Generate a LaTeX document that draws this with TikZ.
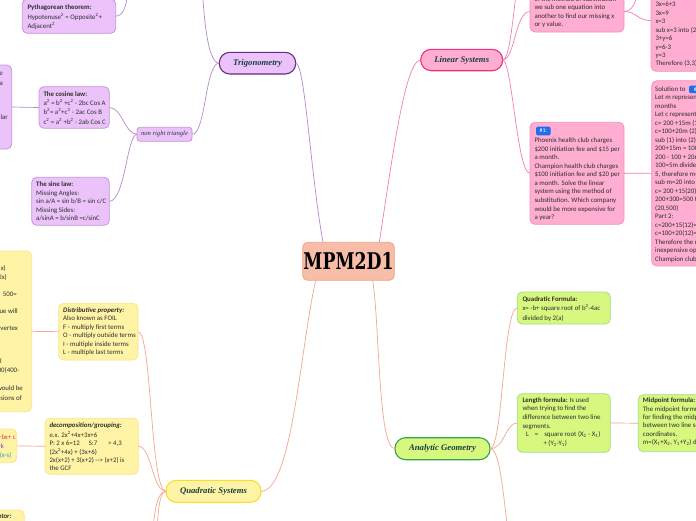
\documentclass[tikz,border=0pt]{standalone}
\usepackage{fontspec}
\newfontfamily\boxfont{Carlito}
\newfontfamily\topicfont{Liberation Serif}
\newfontfamily\mpmfont[FakeStretch=0.75]{DejaVu Serif}
\definecolor{txt}{HTML}{2E2E2E}
\definecolor{topictxt}{HTML}{173F3F}
\definecolor{pfill}{HTML}{EBC3FA}
\definecolor{pdark}{HTML}{6B2A80}
\definecolor{plight}{HTML}{C597D8}
\definecolor{pline}{HTML}{B48BC7}
\definecolor{kfill}{HTML}{FFAED1}
\definecolor{kdark}{HTML}{E8327C}
\definecolor{klight}{HTML}{F290BF}
\definecolor{kline}{HTML}{F37DB5}
\definecolor{gfill}{HTML}{D7F77F}
\definecolor{gdark}{HTML}{2FA54A}
\definecolor{glight}{HTML}{9DE08C}
\definecolor{yfill}{HTML}{FFF4A6}
\definecolor{ydark}{HTML}{F4DF2A}
\definecolor{ylight}{HTML}{FCE38C}
\definecolor{sline}{HTML}{F5A78F}
\definecolor{mfill}{HTML}{F7BDA9}
\definecolor{mdraw}{HTML}{F0A387}
\definecolor{tagblue}{HTML}{1F6FE8}
\definecolor{qred}{HTML}{E8354A}
\definecolor{qpurple}{HTML}{8E3FB0}
\definecolor{qteal}{HTML}{2E9BB5}
\tikzset{
  box/.style={anchor=north west, inner sep=0, outer sep=0, rounded corners=5pt, line width=0.8pt},
  pbox/.style={box, fill=pfill, draw=plight},
  kbox/.style={box, fill=kfill, draw=klight},
  gbox/.style={box, fill=gfill, draw=glight},
  ybox/.style={box, fill=yfill, draw=ylight},
  topic/.style={anchor=north west, inner sep=0, outer sep=0, rounded corners=10.5pt, line width=1.1pt,
    font=\topicfont\bfseries\itshape\fontsize{8.7}{10}\selectfont, text=topictxt},
  tx/.style={anchor=north west, inner sep=0, align=left, text=txt, font=\boxfont\fontsize{6.85}{8.5}\selectfont},
  frag/.style={anchor=base east, inner sep=0, text=txt, font=\boxfont\fontsize{6.85}{8.5}\selectfont},
  conn/.style={line width=0.7pt},
  tagbox/.style={anchor=north west, inner sep=0, outer sep=0, fill=tagblue, rounded corners=1.5pt, text=white,
    font=\boxfont\fontsize{5.8}{7}\selectfont}
}
\begin{document}
\begin{tikzpicture}[x=1pt,y=-1pt]
\useasboundingbox (0,0) rectangle (696,520);
\clip (0,0) rectangle (696,520);
\fill[white] (0,0) rectangle (696,520);

% ---------- central node ----------
\node[draw=mdraw, fill=mfill, line width=0.8pt, rounded corners=5pt, inner sep=0, outer sep=0,
  minimum width=91.6, minimum height=38, anchor=north west] (mpm) at (302.7,242.3)
  {\mpmfont\bfseries\fontsize{23}{26}\selectfont MPM2D1};

% ---------- main topics ----------
\node[topic, fill=pfill, draw=pdark, minimum width=76.4, minimum height=21.7] (trig) at (219.3,52.3) {Trigonometry};
\node[topic, fill=kfill, draw=kdark, minimum width=82, minimum height=21.4] (lin) at (420.7,49.3) {Linear Systems};
\node[topic, fill=gfill, draw=gdark, minimum width=95, minimum height=22] (ag) at (395,437.7) {Analytic Geometry};
\node[topic, fill=yfill, draw=ydark, minimum width=95, minimum height=22] (qs) at (166,480.3) {Quadratic Systems};

% ---------- trigonometry ----------
\node[pbox, rounded corners=3pt, minimum width=55, minimum height=14,
  font=\topicfont\itshape\fontsize{6.6}{8}\selectfont, text=topictxt] (nrt) at (137,127.3) {non right triangle};
\node[pbox, minimum width=93.4, minimum height=34.3] (pyth) at (22.3,-1) {};
\node[tx, font=\boxfont\fontsize{6.85}{9.5}\selectfont] (pytht) at (27.3,3.1)
  {\strut\textbf{Pythagorean theorem:}\\Hypotenuse\textsuperscript{2} = Opposite\textsuperscript{2}+\\Adjacent\textsuperscript{2}};
\node[pbox, minimum width=70.3, minimum height=41.6] (cos) at (39,86.7) {};
\node[tx, font=\boxfont\fontsize{6.85}{9.2}\selectfont] (cost) at (43.3,89.8)
  {\strut\textbf{The cosine law:}\\a\textsuperscript{2} = b\textsuperscript{2} +c\textsuperscript{2} - 2bc Cos A\\b\textsuperscript{2}= a\textsuperscript{2}+c\textsuperscript{2} - 2ac Cos B\\c\textsuperscript{2} = a\textsuperscript{2} +b\textsuperscript{2} - 2ab Cos C};
\node[pbox, minimum width=77.6, minimum height=48] (sine) at (31.7,177.3) {};
\node[tx] (sinet) at (36,180.5)
  {\strut\textbf{The sine law:}\\Missing Angles:\\sin a/A = sin b/B = sin c/C\\Missing Sides:\\a/sinA = b/sinB =c/sinC};
\node[pbox, minimum width=81.7, minimum height=84] (leftp) at (-70,65) {};
\node[frag] (lp1) at (3,75.8) {e};
\node[frag] (lp2) at (3,85.3) {a};
\node[frag] (lp3) at (8,119.1) {lar};

% ---------- linear systems ----------
\node[kbox, minimum width=94, minimum height=41] (subst) at (530,-9) {};
\node[tx] (substt) at (534.3,-5.1)
  {\strut In the method of substitution\\we sub one equation into\\another to find our missing x\\or y value.};
\node[kbox, minimum width=80, minimum height=101.3] (sol1) at (651,-30) {};
\node[tx, font=\boxfont\fontsize{6.85}{8.43}\selectfont] (sol1t) at (655.3,0.8)
  {\strut 3x=6+3\\3x=9\\x=3\\sub x=3 into (2)\\3+y=6\\y=6-3\\y=3\\Therefore (3,3)};
\node[kbox, minimum width=94, minimum height=102] (ex1) at (530,122.3) {};
\node[tagbox, minimum width=14.7, minimum height=8.6] (ex1tag) at (536,126.7) {\#1:};
\node[tx, font=\boxfont\fontsize{6.85}{8.55}\selectfont] (ex1t) at (534.3,136.5)
  {\strut Phoenix health club charges\\\$200 initiation fee and \$15 per\\a month.\\Champion health club charges\\\$100 initiation fee and \$20 per\\a month. Solve the linear\\system using the method of\\substitution. Which company\\would be more expensive for\\a year?};
\node[kbox, minimum width=90, minimum height=185.3] (sol2) at (651.7,80.7) {};
\node[tagbox, minimum width=17, minimum height=7.6] (sol2tag) at (689,85.5) {\#1:};
\node[tx] (sol2t) at (655,85.1)
  {\strut Solution to\\Let m represent\\months\\Let c represent\\c= 200 +15m (1)\\c=100+20m (2)\\sub (1) into (2)\\200+15m = 100+20m\\200 - 100 + 20m\\100=5m divide by\\5, therefore m=20\\sub m=20 into (1)\\c= 200 +15(20)\\200+300=500 therefore\\(20,500)\\Part 2:\\c=200+15(12)=380\\c=100+20(12)=340\\Therefore the most\\inexpensive option\\Champion club};

% ---------- analytic geometry ----------
\node[gbox, minimum width=93, minimum height=32] (qf) at (517.3,292) {};
\node[tx, font=\boxfont\fontsize{6.85}{9.3}\selectfont] (qft) at (522.3,294.8)
  {\strut\textbf{Quadratic Formula:}\\x= -b+ square root of b\textsuperscript{2}-4ac\\divided by 2(a)};
\node[gbox, minimum width=93, minimum height=58.6] (len) at (517.3,393.7) {};
\node[tx, font=\boxfont\fontsize{6.85}{8.6}\selectfont] (lent) at (522.3,396.1)
  {\strut\textbf{Length formula:} Is used\\when trying to find the\\difference between two line\\segments.\\\hspace{3.5pt}L\hspace{6pt}=\hspace{6pt}square root (X\textsubscript{2} - X\textsubscript{1})\\\hspace{21pt}+ (Y\textsubscript{2}-Y\textsubscript{1})};
\node[gbox, minimum width=100, minimum height=57] (mid) at (638.3,394.7) {};
\node[tx, font=\boxfont\fontsize{6.85}{8.45}\selectfont] (midt) at (642.7,396.5)
  {\strut\textbf{Midpoint formula:}\\The midpoint formula is used\\for finding the midpoint\\between two line segments\\coordinates.\\m=(X\textsubscript{1}+X\textsubscript{2}, Y\textsubscript{1}+Y\textsubscript{2}) divided by 2};

% ---------- quadratic systems ----------
\node[ybox, minimum width=79.3, minimum height=56.7] (dist) at (58.7,303.3) {};
\node[tx] (distt) at (63,306.1)
  {\strut\textbf{\textit{Distributive property:}}\\Also known as FOIL\\F - multiply first terms\\O - multiply outside terms\\ I - multiple inside terms\\L - multiple last terms};
\node[ybox, minimum width=93.3, minimum height=56] (decomp) at (45,418.3) {};
\node[tx, font=\boxfont\fontsize{6.85}{8.4}\selectfont] (decompt) at (49.3,421.5)
  {\strut\textbf{\textit{decomposition/grouping:}}\\e.x. 2x\textsuperscript{2}+4x+3x+6\\P: 2 x 6=12\hspace{9pt}S:7\hspace{11pt}> 4,3\\(2x\textsuperscript{2}+4x) + (3x+6)\\2x(x+2) + 3(x+2) -{}-{}> (x+2) is\\the GCF};
\node[ybox, minimum width=111.7, minimum height=160.7] (bigy) at (-80,251) {};
\node[frag] (by1) at (6,270.8) {x)};
\node[frag] (by2) at (7,279.5) {2x)};
\node[frag] (by3) at (17,296.1) {500=};
\node[frag] (by4) at (18,313.5) {ue will};
\node[frag] (by5) at (18,330.1) {vertex};
\node[frag] (by6) at (2,363.5) {l};
\node[frag] (by7) at (19.5,372.8) {00(400-};
\node[frag] (by8) at (23,390.1) {would be};
\node[frag] (by9) at (22,400.1) {sions of};
\node[ybox, minimum width=76.7, minimum height=33.7] (smally) at (-60,429) {};
\node[frag, text=qred] (sy1) at (16,439.1) {y=ax\textsuperscript{2}+bx+ c};
\node[frag, text=qpurple] (sy2) at (4.3,448.5) {y=a(x-h)\textsuperscript{2}+k};
\node[frag, text=qteal] (sy3) at (11.7,457.5) {y=a(x-r)(x-s)};
\node[ybox, minimum width=84.3, minimum height=40] (boty) at (-60,510) {};
\node[frag] (bot1) at (11.7,518.5) {\textbf{\textit{ator:}}};

% ---------- connectors ----------
\draw[conn,pline] (trig.east) .. controls (305,63) and (310,170) .. ([xshift=20.3pt]mpm.north west);
\draw[conn,kline] (lin.west) .. controls (405,60) and (392,160) .. ([xshift=76.6pt]mpm.north west);
\draw[conn,sline] ([xshift=13pt]mpm.south west) .. controls (300,350) and (292,491.3) .. (qs.east);
\draw[conn,sline] ([xshift=70pt]mpm.south west) .. controls (380,330) and (378,448.7) .. (ag.west);

\draw[conn,pline] (trig.west) .. controls (205,63) and (206,134.3) .. (nrt.east);
\coordinate (trigup) at (201,-40);
\draw[conn,pline] (trig.west) .. controls (207,63) and (203,15) .. (trigup);
\draw[conn,pline] (nrt.west) .. controls (125,134.3) and (122,107.5) .. (cos.east);
\draw[conn,pline] (nrt.west) .. controls (127,134.3) and (125,201.3) .. (sine.east);
\draw[conn,pline] (cos.west) -- (leftp.east);
\coordinate (pythup) at (130,-30);
\draw[conn,pline] (pyth.east) .. controls (124,16) and (128,5) .. (pythup);

\draw[conn,kline] (lin.east) .. controls (515,60) and (515,11.5) .. (subst.west);
\coordinate (linup) at (519,-30);
\draw[conn,kline] (lin.east) .. controls (510,60) and (513,15) .. (linup);
\draw[conn,kline] (lin.east) .. controls (512,60) and (517,173.3) .. (ex1.west);
\draw[conn,kline] (subst.east) .. controls (636,11.5) and (638,20.6) .. (sol1.west);
\coordinate (substup) at (642,-30);
\draw[conn,kline] (subst.east) .. controls (632,11.5) and (637,5) .. (substup);
\draw[conn,kline] (ex1.east) -- (sol2.west);

\draw[conn,sline] (ag.east) .. controls (503,448.7) and (503,308) .. (qf.west);
\draw[conn,sline] (ag.east) .. controls (505,448.7) and (505,423) .. (len.west);
\coordinate (agdown) at (511,560);
\draw[conn,sline] (ag.east) .. controls (500,448.7) and (503,490) .. (agdown);
\draw[conn,sline] (len.east) -- (mid.west);

\draw[conn,sline] (qs.west) .. controls (150,491.3) and (152,331.7) .. (dist.east);
\draw[conn,sline] (qs.west) .. controls (152,491.3) and (152,446.3) .. (decomp.east);
\coordinate (qsdown1) at (149,600);
\coordinate (qsdown2) at (156,600);
\draw[conn,sline] (qs.west) .. controls (155,491.3) and (152,520) .. (qsdown1);
\draw[conn,sline] (qs.west) .. controls (158,491.3) and (156,520) .. (qsdown2);
\draw[conn,sline] (dist.west) -- (bigy.east);
\draw[conn,sline] (decomp.west) -- (smally.east);
\end{tikzpicture}
\end{document}
